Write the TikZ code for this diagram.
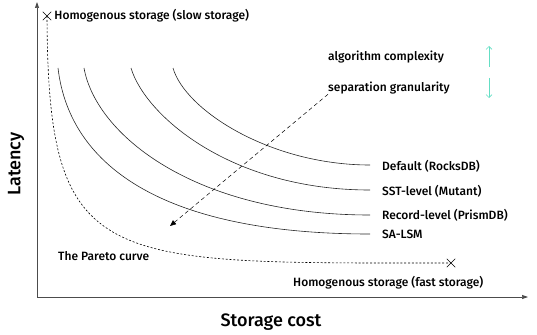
\documentclass[tikz,border=0pt]{standalone}
\usepackage{fontspec}
\setmainfont{Fira Sans}[BoldFont={Fira Sans Medium}]
\usetikzlibrary{arrows.meta,positioning,shapes.misc}
\definecolor{hintteal}{RGB}{100,222,196}

\begin{document}
\begin{tikzpicture}[
  x=1pt, y=-1pt,
  lbl/.style={font=\fontsize{12}{13}\selectfont\bfseries, inner sep=0pt, anchor=west},
  axlbl/.style={font=\fontsize{18}{20}\selectfont\bfseries, inner sep=0pt},
  xmark/.style={cross out, draw, minimum size=8pt, inner sep=0pt, line width=0.5pt},
  curve/.style={line width=0.6pt, draw=black!85},
  pareto/.style={dash pattern=on 2pt off 1.8pt, line width=0.6pt},
  hint/.style={-{Triangle[length=6pt,width=5pt]}, dash pattern=on 4pt off 3pt, line width=0.5pt},
  axis/.style={-{Triangle[length=6pt,width=4pt]}, line width=0.7pt, draw=black!70},
  trend/.style={-{Straight Barb[length=3pt,width=6pt]}, draw=hintteal, line width=0.6pt},
]
\useasboundingbox (0,0) rectangle (537,334);
\coordinate (origin) at (37,297);
\coordinate (ytop) at (37,2);
\coordinate (xend) at (528,297);
\draw[axis] (origin) -- (ytop);
\draw[axis] (origin) -- (xend);
\node[axlbl, rotate=90] (latency) at (16,164) {Latency};
\node[axlbl] (cost) at (271,322) {Storage cost};

\node[xmark] (slow) at (47,16) {};
\node[lbl, right=3pt of slow] (slowlbl) {Homogenous storage (slow storage)};
\node[xmark] (fast) at (451,263) {};
\node[lbl] (fastlbl) at (293,283) {Homogenous storage (fast storage)};
\draw[pareto] (slow.center) .. controls (48,270) and (100,263) .. (fast.center);
\node[lbl] (paretolbl) at (58,256) {The Pareto curve};

\node[lbl] (rocks) at (382,166) {Default (RocksDB)};
\node[lbl] (mutant) at (382,191) {SST-level (Mutant)};
\node[lbl] (prism) at (382,215) {Record-level (PrismDB)};
\node[lbl] (salsm) at (382,234) {SA-LSM};
\foreach \sx/\ax/\ay/\bx/\ey/\n in {173/185/110/270/165/rocks, 131/145/115/230/190/mutant,
    84/96/135/195/215/prism, 58/70/170/170/234/salsm}
  \draw[curve] (\sx,68) .. controls (\ax,\ay) and (\bx,\ey) .. (370,\ey);

\node[lbl] (algo) at (328,57) {algorithm complexity};
\node[lbl] (gran) at (328,88) {separation granularity};
\coordinate (upfrom) at (489,67);
\coordinate (upto) at (489,46);
\coordinate (downfrom) at (489,78);
\coordinate (downto) at (489,98);
\draw[trend] (upfrom) -- (upto);
\draw[trend] (downfrom) -- (downto);

\coordinate (hintend) at (170,226);
\draw[hint] (gran.south west) -- (hintend);
\end{tikzpicture}
\end{document}
